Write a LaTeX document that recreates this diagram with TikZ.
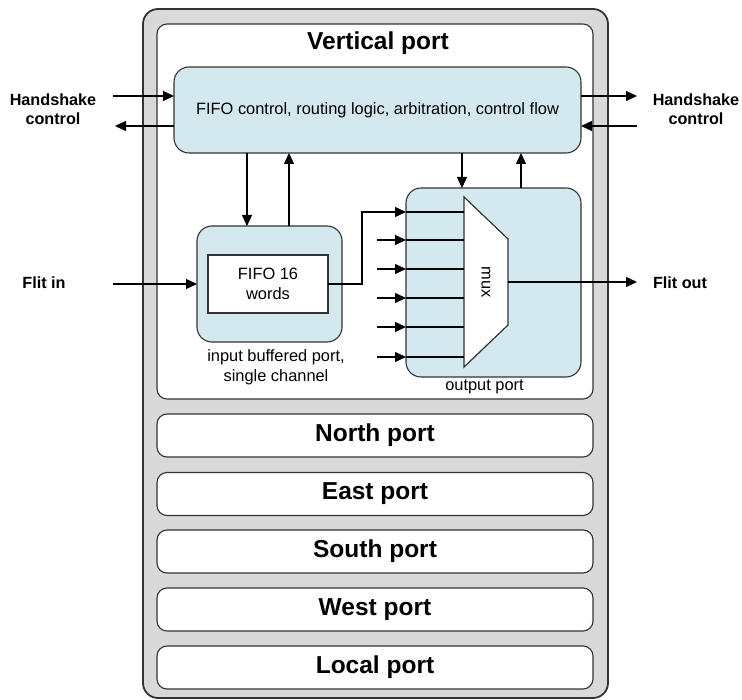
\documentclass[tikz,border=0pt]{standalone}
\usepackage{fontspec}
\setmainfont{Liberation Sans}
\usetikzlibrary{arrows.meta,calc}
\definecolor{boxblue}{HTML}{D4E9EF}
\definecolor{outergray}{HTML}{D9D9D9}
\definecolor{edge}{HTML}{333333}
\begin{document}
\begin{tikzpicture}[x=1pt,y=-1pt,
  every node/.style={font=\fontsize{16.4}{19.5}\selectfont, inner sep=0pt, outer sep=0pt},
  outerbox/.style={draw=edge, line width=1.8pt, fill=outergray, rounded corners=15pt},
  portbox/.style={draw=edge, line width=1.1pt, fill=white, rounded corners=10pt, font=\bfseries\fontsize{24.5}{28}\selectfont},
  bluebox/.style={draw=edge, line width=1.1pt, fill=boxblue, rounded corners=15pt},
  fifobox/.style={draw=edge, line width=1.1pt, fill=white},
  lbl/.style={align=center, font=\bfseries\fontsize{16.2}{19.5}\selectfont},
  txt/.style={align=center},
  arr/.style={line width=1.2pt, -{Triangle[length=11pt,width=10pt]}},
  ln/.style={line width=1.2pt}]
\useasboundingbox (0,0) rectangle (742,700);

% outer box
\node[outerbox, minimum width=465pt, minimum height=689pt] (outer) at (375.5,353.5) {};

% vertical port
\node[portbox, minimum width=436pt, minimum height=375pt] (vert) at (375,211.5) {};
\node[font=\bfseries\fontsize{24.5}{28}\selectfont] (verttitle) at (378,43) {Vertical port};

% other ports
\node[portbox, minimum width=436pt, minimum height=43pt] (north) at (375,435.5) {North port};
\node[portbox, minimum width=436pt, minimum height=43pt] (east) at (375,494) {East port};
\node[portbox, minimum width=436pt, minimum height=43pt] (south) at (375,551.5) {South port};
\node[portbox, minimum width=436pt, minimum height=43pt] (west) at (375,609.5) {West port};
\node[portbox, minimum width=436pt, minimum height=43pt] (local) at (375,667.5) {Local port};

% control block
\node[bluebox, minimum width=407pt, minimum height=86pt] (ctrl) at (377.5,110) {};
\node[txt] (ctrltxt) at (377.5,110) {FIFO control, routing logic, arbitration, control flow};

% input buffer
\node[bluebox, minimum width=145pt, minimum height=116pt] (inbuf) at (269.5,284) {};
\node[fifobox, minimum width=120pt, minimum height=58pt, align=center] (fifo) at (268,284) {FIFO 16\\words};
\node[txt] (inlbl) at (276,367.5) {input buffered port,\\single channel};

% output port
\node[bluebox, minimum width=175pt, minimum height=189pt] (outp) at (493.5,282.5) {};
\node[txt] (outlbl) at (484.5,387) {output port};

% mux
\coordinate (m1) at (464,197);
\coordinate (m2) at (508,239);
\coordinate (m3) at (508,325);
\coordinate (m4) at (464,367);
\draw[ln, draw=edge, fill=white] (m1) -- (m2) -- (m3) -- (m4) -- cycle;
\node[rotate=-90] (muxtxt) at (486,282) {mux};

% handshake labels
\node[lbl] (hsl) at (53,109) {Handshake\\control};
\node[lbl] (hsr) at (696,109) {Handshake\\control};
\node[lbl] (flitin) at (44,283) {Flit in};
\node[lbl] (flitout) at (680,283) {Flit out};

% handshake arrows
\coordinate (hlA) at (113,96);
\coordinate (hlB) at (115,126);
\coordinate (hrA) at (637,96);
\coordinate (hrB) at (637,126);
\draw[arr] (hlA) -- (hlA -| ctrl.west);
\draw[arr] (hlB -| ctrl.west) -- (hlB);
\draw[arr] (hrA -| ctrl.east) -- (hrA);
\draw[arr] (hrB) -- (hrB -| ctrl.east);

% control <-> input buffer
\coordinate (xa) at (247,0);
\coordinate (xb) at (289,0);
\draw[arr] (xa |- ctrl.south) -- (xa |- inbuf.north);
\draw[arr] (xb |- inbuf.north) -- (xb |- ctrl.south);

% control <-> output port
\coordinate (xc) at (462,0);
\coordinate (xd) at (521,0);
\draw[arr] (xc |- ctrl.south) -- (xc |- outp.north);
\draw[arr] (xd |- outp.north) -- (xd |- ctrl.south);

% flit in
\coordinate (fin) at (113,284);
\draw[arr] (fin) -- (fin -| inbuf.west);

% fifo to mux
\coordinate (bend) at (362,284);
\coordinate (y0) at (0,212);
\draw[arr] (fifo.east) -- (bend) |- (y0 -| outp.west);
\draw[ln] (y0 -| outp.west) -- (y0 -| m1);

% other mux inputs
\foreach \yy/\nm in {240/a,269/b,298/c,327/d,357/e}{
  \coordinate (s\nm) at (377,\yy);
  \draw[arr] (s\nm) -- (s\nm -| outp.west);
  \draw[ln] (s\nm -| outp.west) -- (s\nm -| m1);
}

% mux output
\coordinate (mo) at ($(m2)!0.5!(m3)$);
\coordinate (fout) at (637,0);
\draw[arr] (mo) -- (fout |- mo);
\end{tikzpicture}
\end{document}
